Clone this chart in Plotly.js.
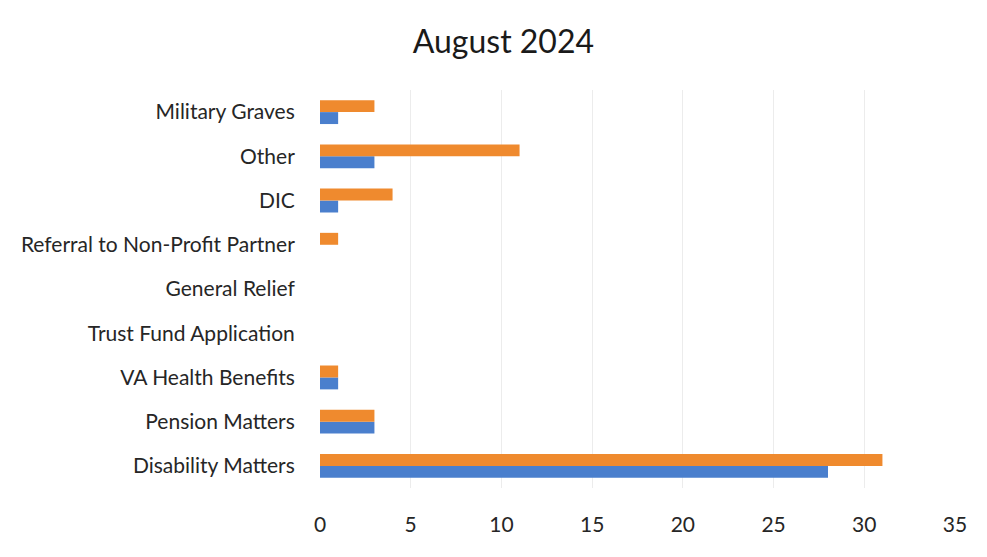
<!DOCTYPE html>
<html>
<head>
<meta charset="utf-8">
<script src="https://cdn.plot.ly/plotly-3.0.1.min.js"></script>
<style>
  html, body { margin: 0; padding: 0; background: #ffffff; }
  #chart { width: 987px; height: 557px; }
</style>
</head>
<body>
<div id="chart"></div>
<script>
// Service categories, listed bottom to top as Plotly stacks them on a category y axis
const categories = [
  "Disability Matters",
  "Pension Matters",
  "VA Health Benefits",
  "Trust Fund Application",
  "General Relief",
  "Referral to Non-Profit Partner",
  "DIC",
  "Other",
  "Military Graves"
];

// Counts per category for the two series
const seriesBlue   = [28, 3, 1, 0, 0, 0, 1, 3, 1];
const seriesOrange = [31, 3, 1, 0, 0, 1, 4, 11, 3];

const xTicks = [0, 5, 10, 15, 20, 25, 30, 35];

const font = "Lato, 'Open Sans', 'Liberation Sans', sans-serif";

const traces = [
  {
    type: "bar",
    orientation: "h",
    name: "Series 1",
    y: categories,
    x: seriesBlue,
    marker: { color: "#4a7fcd" },
    hoverinfo: "x+y"
  },
  {
    type: "bar",
    orientation: "h",
    name: "Series 2",
    y: categories,
    x: seriesOrange,
    marker: { color: "#ef8a2e" },
    hoverinfo: "x+y"
  }
];

const layout = {
  width: 987,
  height: 557,
  paper_bgcolor: "#ffffff",
  plot_bgcolor: "#ffffff",
  margin: { l: 320, r: 32, t: 90, b: 69 },
  showlegend: false,
  barmode: "group",
  bargap: 0.46,
  bargroupgap: 0,
  title: {
    text: "August 2024",
    font: { family: font, size: 32, color: "#1a1a1a" },
    xref: "container",
    x: 0.51,
    xanchor: "center",
    yref: "container",
    y: 0.925,
    yanchor: "middle"
  },
  xaxis: {
    range: [0, 35],
    tickvals: xTicks,
    ticktext: xTicks.map(String),
    showgrid: true,
    gridcolor: "#ececec",
    gridwidth: 1,
    zeroline: false,
    showline: false,
    ticks: "outside",
    ticklen: 18,
    tickcolor: "rgba(0,0,0,0)",
    tickfont: { family: font, size: 21, color: "#262626" },
    fixedrange: true
  },
  yaxis: {
    type: "category",
    categoryorder: "array",
    categoryarray: categories,
    showgrid: false,
    zeroline: false,
    showline: false,
    ticks: "outside",
    ticklen: 20,
    tickcolor: "rgba(0,0,0,0)",
    tickfont: { family: font, size: 21, color: "#262626" },
    automargin: false,
    fixedrange: true
  }
};

Plotly.newPlot("chart", traces, layout, { displayModeBar: false, staticPlot: true });
</script>
</body>
</html>
